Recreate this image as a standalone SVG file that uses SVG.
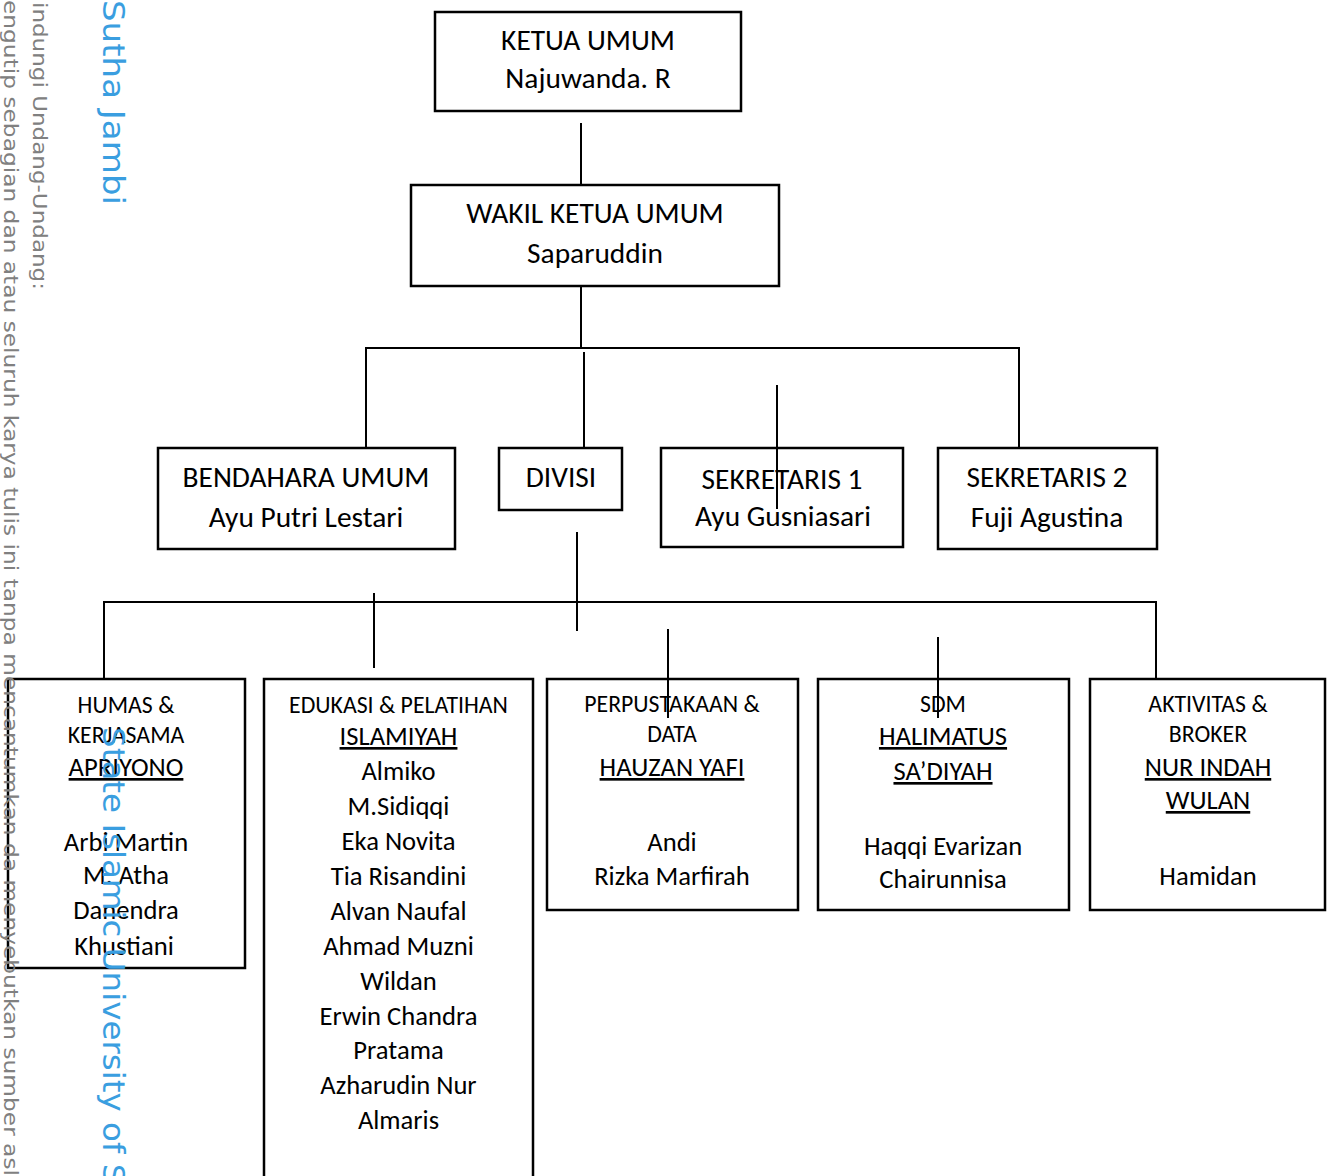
<svg xmlns="http://www.w3.org/2000/svg" width="1327" height="1176" viewBox="0 0 1327 1176">
<style>
.box{fill:#fff;stroke:#000;stroke-width:2.5}
.ln{stroke:#000;stroke-width:2;fill:none}
text{font-family:Carlito,Lato,"Liberation Sans",sans-serif;fill:#000;text-anchor:middle}
.t{font-size:29.4px}
.h{font-size:23.8px}
.n{font-size:26.6px}
.u{text-decoration:underline}
.wg{font-family:"DejaVu Sans",sans-serif;font-size:20px;fill:#808080;text-anchor:start}
.wb{font-family:"DejaVu Sans",sans-serif;font-size:30px;fill:#3a9ee0;text-anchor:start}
</style>
<rect width="1327" height="1176" fill="#fff"/>
<g id="ketua"><rect class="box" x="435" y="12" width="306" height="99"/><text class="t" x="588" y="50">KETUA UMUM</text><text class="t" x="588" y="88">Najuwanda. R</text></g>
<g id="wakil"><rect class="box" x="411" y="185" width="368" height="101"/><text class="t" x="595" y="223">WAKIL KETUA UMUM</text><text class="t" x="595" y="263">Saparuddin</text></g>
<g id="bendahara"><rect class="box" x="158" y="448" width="297" height="101"/><text class="t" x="306" y="487">BENDAHARA UMUM</text><text class="t" x="306" y="527">Ayu Putri Lestari</text></g>
<g id="divisi"><rect class="box" x="499" y="448" width="123" height="62"/><text class="t" x="561" y="487">DIVISI</text></g>
<g id="sekretaris1"><rect class="box" x="661" y="448" width="242" height="99"/><text class="t" x="782" y="489">SEKRETARIS 1</text><text class="t" x="783" y="526">Ayu Gusniasari</text></g>
<g id="sekretaris2"><rect class="box" x="938" y="448" width="219" height="101"/><text class="t" x="1047" y="487">SEKRETARIS 2</text><text class="t" x="1047" y="527">Fuji Agustina</text></g>
<g id="humas"><rect class="box" x="8" y="679" width="237" height="289"/>
<text class="h" x="126" y="713">HUMAS &amp;</text><text class="h" x="126" y="743">KERJASAMA</text><text class="n u" x="126" y="776">APRIYONO</text>
<text class="n" x="126" y="851">Arbi Martin</text><text class="n" x="126" y="884">M. Atha</text><text class="n" x="126" y="919">Danendra</text><text class="n" x="124" y="955">Khustiani</text></g>
<g id="edukasi"><rect class="box" x="264" y="679" width="269" height="510"/>
<text class="h" x="398.5" y="713">EDUKASI &amp; PELATIHAN</text><text class="n u" x="398.5" y="745">ISLAMIYAH</text>
<text class="n" x="398.5" y="780">Almiko</text><text class="n" x="398.5" y="815">M.Sidiqqi</text><text class="n" x="398.5" y="850">Eka Novita</text><text class="n" x="398.5" y="885">Tia Risandini</text><text class="n" x="398.5" y="920">Alvan Naufal</text><text class="n" x="398.5" y="955">Ahmad Muzni</text><text class="n" x="398.5" y="990">Wildan</text><text class="n" x="398.5" y="1025">Erwin Chandra</text><text class="n" x="398.5" y="1059">Pratama</text><text class="n" x="398.5" y="1094">Azharudin Nur</text><text class="n" x="398.5" y="1129">Almaris</text></g>
<g id="perpustakaan"><rect class="box" x="547" y="679" width="251" height="231"/>
<text class="h" x="672" y="712">PERPUSTAKAAN &amp;</text><text class="h" x="672" y="742">DATA</text><text class="n u" x="672" y="776">HAUZAN YAFI</text>
<text class="n" x="672" y="851">Andi</text><text class="n" x="672" y="885">Rizka Marfirah</text></g>
<g id="sdm"><rect class="box" x="818" y="679" width="251" height="231"/>
<text class="h" x="943" y="712">SDM</text><text class="n u" x="943" y="745">HALIMATUS</text><text class="n u" x="943" y="780">SA’DIYAH</text>
<text class="n" x="943" y="855">Haqqi Evarizan</text><text class="n" x="943" y="888">Chairunnisa</text></g>
<g id="aktivitas"><rect class="box" x="1090" y="679" width="235" height="231"/>
<text class="h" x="1208" y="712">AKTIVITAS &amp;</text><text class="h" x="1208" y="742">BROKER</text><text class="n u" x="1208" y="776">NUR INDAH</text><text class="n u" x="1208" y="809">WULAN</text>
<text class="n" x="1208" y="885">Hamidan</text></g>
<g id="connectors">
<path class="ln" d="M581 123V185"/>
<path class="ln" d="M581 286V348"/>
<path class="ln" d="M366 448V348H1019V448"/>
<path class="ln" d="M584 352V448"/>
<path class="ln" d="M777 385V509"/>
<path class="ln" d="M577 532V631"/>
<path class="ln" d="M104 679V602H1156V679"/>
<path class="ln" d="M374 593V668"/>
<path class="ln" d="M668 629V718"/>
<path class="ln" d="M938 637V718"/>
</g>
<g id="watermark">
<text class="wg" transform="translate(33,0) rotate(90)" x="2" y="0" textLength="288" lengthAdjust="spacingAndGlyphs">indungi Undang-Undang:</text>
<text class="wg" transform="translate(4,0) rotate(90)" x="0" y="0" textLength="1176" lengthAdjust="spacingAndGlyphs">engutip sebagian dan atau seluruh karya tulis ini tanpa mencantumkan da menyebutkan sumber asl</text>
<text class="wb" transform="translate(103,0) rotate(90)" x="0" y="0" textLength="205" lengthAdjust="spacingAndGlyphs">Sutha Jambi</text>
<text class="wb" transform="translate(103,0) rotate(90)" x="727" y="0" textLength="478" lengthAdjust="spacingAndGlyphs">State Islamic University of Su</text>
</g>
</svg>
